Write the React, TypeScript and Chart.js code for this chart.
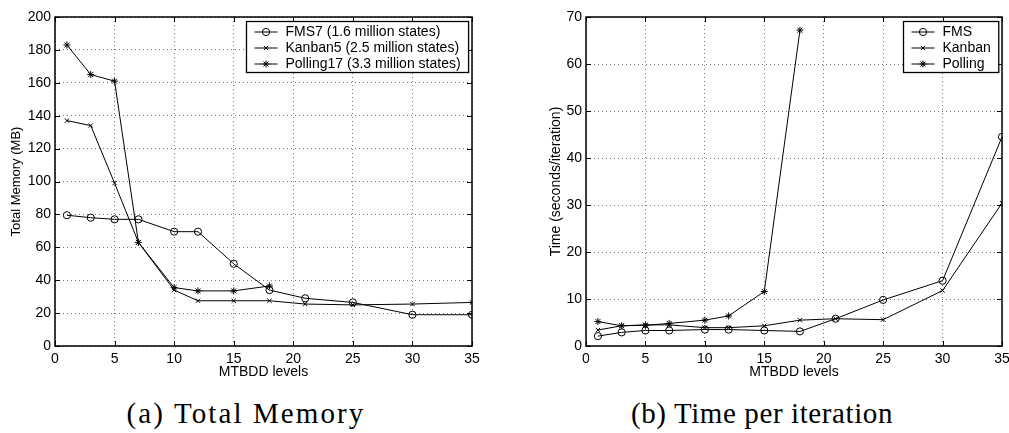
import React, { useEffect, useRef } from 'react';
import { Chart, registerables } from 'chart.js';
import { drawPoint } from 'chart.js/helpers';

Chart.register(...registerables);

// ---------- data ----------
const levels = [1, 3, 5, 7, 10, 12, 15, 18, 21, 25, 30, 35];
const pollingLevels = [1, 3, 5, 7, 10, 12, 15, 18];

const memFMS7 = [79.5, 78, 77, 77, 69.5, 69.5, 50, 34, 29, 26.5, 19, 19];
const memKanban5 = [137, 134, 99, 63, 34, 27.5, 27.5, 27.5, 25.5, 25, 25.5, 26.5];
const memPolling17 = [183, 165, 161, 63, 35.5, 33.5, 33.5, 36.5];

const timeFMS = [2.1, 2.9, 3.3, 3.3, 3.5, 3.5, 3.3, 3.1, 5.8, 9.8, 13.9, 44.5];
const timeKanban = [3.4, 4.3, 4.5, 4.5, 3.9, 3.9, 4.3, 5.5, 5.8, 5.6, 11.8, 30.4];
const timePolling = [5.2, 4.3, 4.4, 4.8, 5.5, 6.4, 11.6, 67.2];

const memLabels = ['FMS7 (1.6 million states)', 'Kanban5 (2.5 million states)', 'Polling17 (3.3 million states)'];
const timeLabels = ['FMS', 'Kanban', 'Polling'];

const xTitle = 'MTBDD levels';
const memTitle = 'Total Memory (MB)';
const timeTitle = 'Time (seconds/iteration)';
const captionA = '(a) Total Memory';
const captionB = '(b) Time per iteration';

const FONT = '"Liberation Sans", Arial, Helvetica, sans-serif';

const pts = (xs: number[], ys: number[]) => ys.map((y, i) => ({ x: xs[i], y }));

const styles = [
  { pointStyle: 'circle', pointRadius: 3.6, pointBackgroundColor: 'rgba(0,0,0,0)' },
  { pointStyle: 'crossRot', pointRadius: 3, pointBackgroundColor: '#000' },
  { pointStyle: 'star', pointRadius: 3.5, pointBackgroundColor: '#000' },
];

const al = (v: number) => Math.round(v) + 0.5;

const matlabPlugin = {
  id: 'matlabFrame',
  afterDraw(chart: any) {
    const { ctx, chartArea } = chart;
    const { left, top, right, bottom } = chartArea;
    const xs = chart.scales.x;
    const ys = chart.scales.y;
    ctx.save();
    ctx.strokeStyle = '#000';
    ctx.lineWidth = 1;
    const tl = 5;
    ctx.beginPath();
    xs.ticks.forEach((t: any) => {
      const px = al(xs.getPixelForValue(t.value));
      ctx.moveTo(px, bottom);
      ctx.lineTo(px, bottom - tl);
      ctx.moveTo(px, top);
      ctx.lineTo(px, top + tl);
    });
    ys.ticks.forEach((t: any) => {
      const py = al(ys.getPixelForValue(t.value));
      ctx.moveTo(left, py);
      ctx.lineTo(left + tl, py);
      ctx.moveTo(right, py);
      ctx.lineTo(right - tl, py);
    });
    ctx.stroke();

    // legend
    const labels: string[] = chart.data.datasets.map((d: any) => d.label);
    ctx.font = `14px ${FONT}`;
    const maxW = Math.max(...labels.map((l) => ctx.measureText(l).width));
    const bw = 39 + maxW + 8;
    const bh = 51;
    const bx = al(right - 4 - bw);
    const by = al(top + 4);
    ctx.fillStyle = '#fff';
    ctx.fillRect(bx, by, bw, bh);
    ctx.lineWidth = 1.3;
    ctx.strokeRect(bx, by, bw, bh);
    ctx.textBaseline = 'middle';
    ctx.textAlign = 'left';
    chart.data.datasets.forEach((d: any, i: number) => {
      const y = by + 10.5 + i * 16;
      ctx.lineWidth = 1;
      ctx.strokeStyle = '#000';
      ctx.beginPath();
      ctx.moveTo(bx + 8, y);
      ctx.lineTo(bx + 31, y);
      ctx.stroke();
      ctx.fillStyle = d.pointBackgroundColor;
      drawPoint(ctx, { pointStyle: d.pointStyle, radius: d.pointRadius, borderWidth: 1, rotation: 0 } as any, bx + 19.5, y);
      ctx.fillStyle = '#000';
      ctx.fillText(d.label, bx + 39, y + 0.5);
    });

    // frame
    ctx.lineWidth = 1.5;
    ctx.strokeStyle = '#000';
    ctx.strokeRect(left, top, right - left, bottom - top);
    ctx.restore();
  },
};

function makeConfig(
  series: { xs: number[]; ys: number[] }[],
  labels: string[],
  yMax: number,
  yStep: number,
  yTitle: string,
  yTitleSize: number,
  yWidth: number,
  yTitlePad: number,
  rightPad: number,
  canvasH: number,
  areaBottom: number
): any {
  return {
    type: 'line',
    data: {
      datasets: series.map((s, i) => ({
        label: labels[i],
        data: pts(s.xs, s.ys),
        borderColor: '#000',
        borderWidth: 1,
        pointBorderColor: '#000',
        pointBorderWidth: 1,
        fill: false,
        tension: 0,
        ...styles[i],
      })),
    },
    options: {
      animation: false,
      responsive: false,
      devicePixelRatio: 1,
      layout: { padding: { left: 0, top: 17, right: rightPad, bottom: 0 } },
      plugins: { legend: { display: false }, tooltip: { enabled: false } },
      scales: {
        x: {
          type: 'linear',
          min: 0,
          max: 35,
          ticks: { stepSize: 5, color: '#000', font: { size: 14, family: FONT }, padding: 5, maxRotation: 0 },
          grid: { color: '#777', lineWidth: 1, drawTicks: false },
          border: { display: false, dash: [1, 3] },
          title: {
            display: true,
            text: xTitle,
            color: '#000',
            font: { size: 14, family: FONT },
            padding: { top: 0, bottom: 4 },
          },
          afterFit(s: any) {
            s.height = canvasH - areaBottom;
            s.paddingLeft = 0;
            s.paddingRight = 0;
          },
        },
        y: {
          type: 'linear',
          min: 0,
          max: yMax,
          ticks: { stepSize: yStep, color: '#000', font: { size: 14, family: FONT }, padding: 4 },
          grid: { color: '#777', lineWidth: 1, drawTicks: false },
          border: { display: false, dash: [1, 3] },
          title: {
            display: true,
            text: yTitle,
            color: '#000',
            font: { size: yTitleSize, family: FONT },
            padding: { top: yTitlePad, bottom: 0 },
          },
          afterFit(s: any) {
            s.width = yWidth;
            s.paddingTop = 0;
            s.paddingBottom = 0;
          },
        },
      },
    },
    plugins: [matlabPlugin],
  };
}

const CANVAS_H = 385;

function ChartCanvas({ config, width, left }: { config: any; width: number; left: number }) {
  const ref = useRef<HTMLCanvasElement>(null);
  useEffect(() => {
    if (!ref.current) return;
    const c = new Chart(ref.current, config);
    return () => c.destroy();
  }, []);
  return (
    <canvas
      ref={ref}
      width={width}
      height={CANVAS_H}
      style={{ position: 'absolute', left, top: 0, width, height: CANVAS_H }}
    />
  );
}

export default function App() {
  const memCfg = makeConfig(
    [
      { xs: levels, ys: memFMS7 },
      { xs: levels, ys: memKanban5 },
      { xs: pollingLevels, ys: memPolling17 },
    ],
    memLabels,
    200,
    20,
    memTitle,
    13,
    55,
    9,
    28,
    CANVAS_H,
    346
  );
  const timeCfg = makeConfig(
    [
      { xs: levels, ys: timeFMS },
      { xs: levels, ys: timeKanban },
      { xs: pollingLevels, ys: timePolling },
    ],
    timeLabels,
    70,
    10,
    timeTitle,
    14,
    86,
    48,
    7,
    CANVAS_H,
    346
  );
  const capStyle: React.CSSProperties = {
    position: 'absolute',
    top: 395,
    fontFamily: '"Liberation Serif", "Times New Roman", serif',
    fontSize: 29,
    color: '#000',
    whiteSpace: 'nowrap',
    lineHeight: '36px',
    transform: 'translateX(-50%)',
  };
  return (
    <div
      style={{
        position: 'absolute',
        left: 0,
        top: 0,
        width: 1009,
        height: 433,
        overflow: 'hidden',
        background: '#fff',
      }}
    >
      <ChartCanvas config={memCfg} width={500} left={0} />
      <ChartCanvas config={timeCfg} width={509} left={500} />
      <div style={{ ...capStyle, left: 246, letterSpacing: 2.1 }}>{captionA}</div>
      <div style={{ ...capStyle, left: 762, letterSpacing: 0.6 }}>{captionB}</div>
    </div>
  );
}
